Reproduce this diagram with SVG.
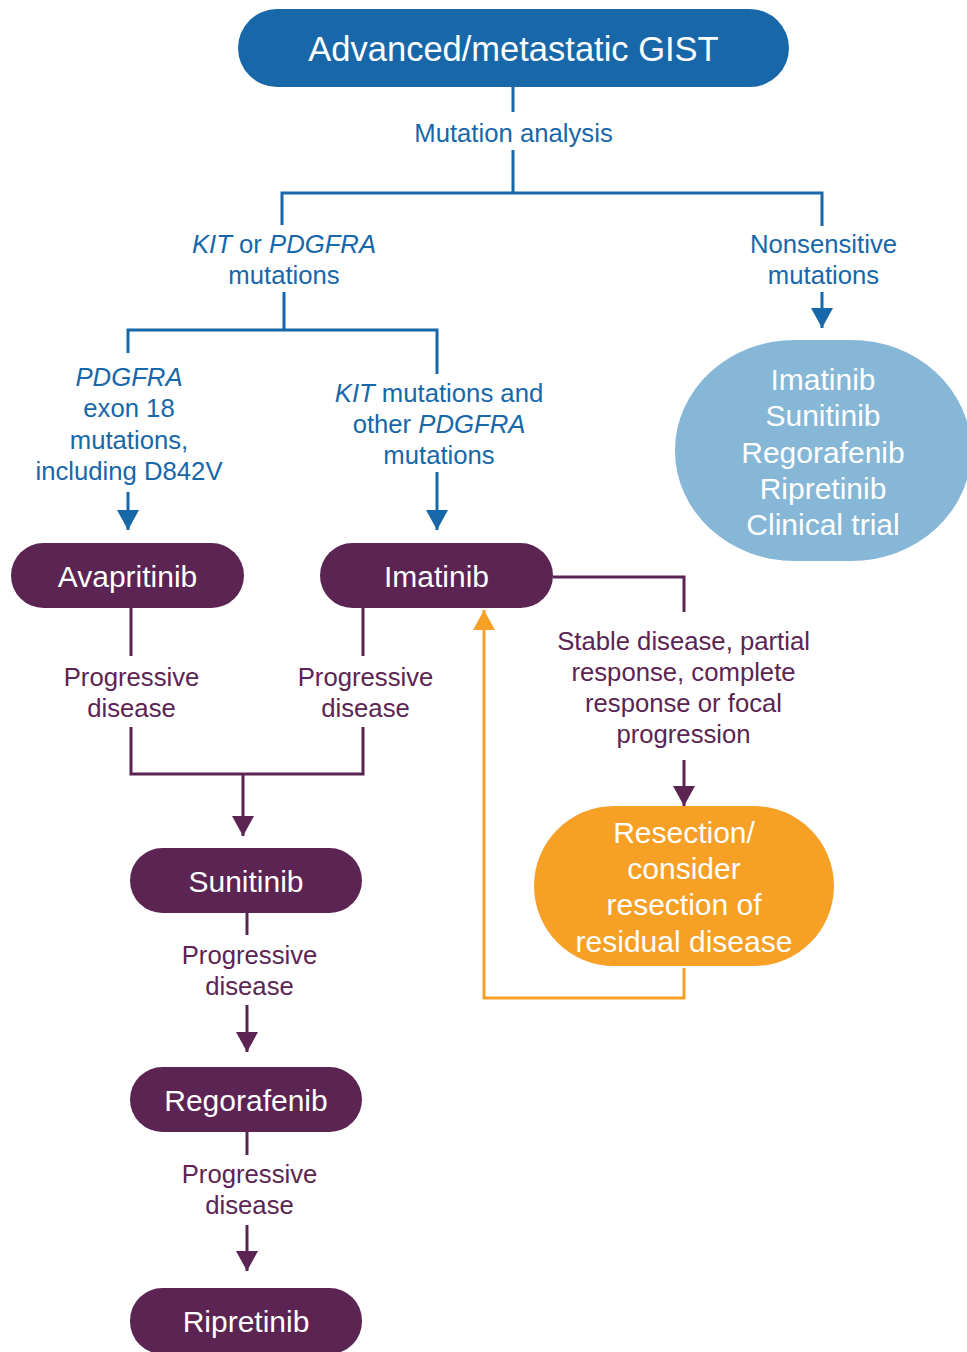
<svg xmlns="http://www.w3.org/2000/svg" width="967" height="1352" viewBox="0 0 967 1352">
<style>
text{font-family:"Liberation Sans",Arial,sans-serif;text-anchor:middle}
.lb{fill:#1767a9;font-size:25.7px}
.lp{fill:#5b2452;font-size:25.7px}
.nt{fill:#ffffff;font-size:30px}
.cb{fill:none;stroke:#1767a9;stroke-width:3}
.cp{fill:none;stroke:#5b2452;stroke-width:3}
.co{fill:none;stroke:#f6a026;stroke-width:3}
.it{font-style:italic}
</style>
<defs>
<marker id="ab" markerUnits="userSpaceOnUse" markerWidth="22" markerHeight="22" viewBox="0 0 22 22" refX="20" refY="11" orient="auto"><path d="M0,0 L20,11 L0,22 Z" fill="#1767a9"/></marker>
<marker id="ap" markerUnits="userSpaceOnUse" markerWidth="22" markerHeight="22" viewBox="0 0 22 22" refX="20" refY="11" orient="auto"><path d="M0,0 L20,11 L0,22 Z" fill="#5b2452"/></marker>
<marker id="ao" markerUnits="userSpaceOnUse" markerWidth="22" markerHeight="22" viewBox="0 0 22 22" refX="20" refY="11" orient="auto"><path d="M0,0 L20,11 L0,22 Z" fill="#f6a026"/></marker>
</defs>
<g id="connectors">
<path class="cb" d="M513,87 V112"/>
<path class="cb" d="M513,150 V193 M282,193 H822 M282,191.5 V225 M822,191.5 V226"/>
<path class="cb" d="M284,292 V330 M128,330 H437 M128,328.5 V353 M437,328.5 V374"/>
<path class="cb" d="M128,492 V530" marker-end="url(#ab)"/>
<path class="cb" d="M437,472 V530" marker-end="url(#ab)"/>
<path class="cb" d="M822,292 V328" marker-end="url(#ab)"/>
<path class="cp" d="M553,577 H684 V612"/>
<path class="cp" d="M684,760 V806" marker-end="url(#ap)"/>
<path class="co" d="M684,968 V998 H484 V610" marker-end="url(#ao)"/>
<path class="cp" d="M131,608 V656 M363,608 V656"/>
<path class="cp" d="M131,727 V774 H363 V727 M243,774 V836" marker-end="url(#ap)"/>
<path class="cp" d="M247,913 V935"/>
<path class="cp" d="M247,1005 V1052" marker-end="url(#ap)"/>
<path class="cp" d="M247,1132 V1155"/>
<path class="cp" d="M247,1225 V1271" marker-end="url(#ap)"/>
</g>
<g id="labels">
<text class="lb" x="513.5" y="142">Mutation analysis</text>
<text class="lb" x="284" y="253"><tspan class="it">KIT</tspan> or <tspan class="it">PDGFRA</tspan></text>
<text class="lb" x="284" y="284">mutations</text>
<text class="lb" x="823.5" y="253">Nonsensitive</text>
<text class="lb" x="823.5" y="284">mutations</text>
<text class="lb it" x="129" y="386">PDGFRA</text>
<text class="lb" x="129" y="417">exon 18</text>
<text class="lb" x="129" y="449">mutations,</text>
<text class="lb" x="129" y="480">including D842V</text>
<text class="lb" x="439" y="402"><tspan class="it">KIT</tspan> mutations and</text>
<text class="lb" x="439" y="433">other <tspan class="it">PDGFRA</tspan></text>
<text class="lb" x="439" y="464">mutations</text>
<text class="lp" x="131.5" y="686">Progressive</text>
<text class="lp" x="131.5" y="717">disease</text>
<text class="lp" x="365.5" y="686">Progressive</text>
<text class="lp" x="365.5" y="717">disease</text>
<text class="lp" x="683.5" y="650">Stable disease, partial</text>
<text class="lp" x="683.5" y="681">response, complete</text>
<text class="lp" x="683.5" y="712">response or focal</text>
<text class="lp" x="683.5" y="743">progression</text>
<text class="lp" x="249.5" y="964">Progressive</text>
<text class="lp" x="249.5" y="995">disease</text>
<text class="lp" x="249.5" y="1183">Progressive</text>
<text class="lp" x="249.5" y="1214">disease</text>
</g>
<g id="gist">
<rect x="238" y="9" width="551" height="78" rx="39" fill="#1767a9"/>
<text class="nt" x="513.5" y="61" style="font-size:34.5px">Advanced/metastatic GIST</text>
</g>
<g id="nonsensitive-options">
<rect x="675" y="340" width="296" height="221" rx="120" ry="110" fill="#86b7d7"/>
<text class="nt" x="823" y="390">Imatinib</text>
<text class="nt" x="823" y="426">Sunitinib</text>
<text class="nt" x="823" y="463">Regorafenib</text>
<text class="nt" x="823" y="499">Ripretinib</text>
<text class="nt" x="823" y="535">Clinical trial</text>
</g>
<g id="avapritinib">
<rect x="11" y="543" width="233" height="65" rx="32.5" fill="#5b2452"/>
<text class="nt" x="127.5" y="586.5">Avapritinib</text>
</g>
<g id="imatinib">
<rect x="320" y="543" width="233" height="65" rx="32.5" fill="#5b2452"/>
<text class="nt" x="436.5" y="586.5">Imatinib</text>
</g>
<g id="resection">
<rect x="534" y="806" width="300" height="160" rx="80" fill="#f6a026"/>
<text class="nt" x="684" y="843">Resection/</text>
<text class="nt" x="684" y="879">consider</text>
<text class="nt" x="684" y="915">resection of</text>
<text class="nt" x="684" y="952">residual disease</text>
</g>
<g id="sunitinib">
<rect x="130" y="848" width="232" height="65" rx="32.5" fill="#5b2452"/>
<text class="nt" x="246" y="891.5">Sunitinib</text>
</g>
<g id="regorafenib">
<rect x="130" y="1067" width="232" height="65" rx="32.5" fill="#5b2452"/>
<text class="nt" x="246" y="1110.5">Regorafenib</text>
</g>
<g id="ripretinib">
<rect x="130" y="1288" width="232" height="66" rx="32.5" fill="#5b2452"/>
<text class="nt" x="246" y="1332">Ripretinib</text>
</g>
</svg>
